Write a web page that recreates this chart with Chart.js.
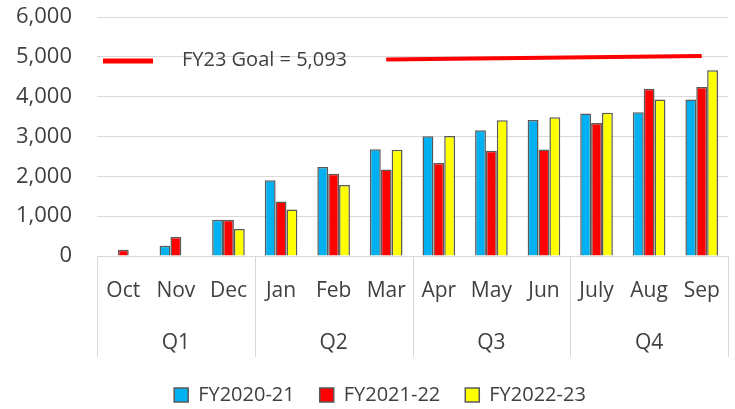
<!DOCTYPE html>
<html>
<head>
<meta charset="utf-8">
<script src="https://cdn.jsdelivr.net/npm/chart.js@4"></script>
<style>
  html, body { margin: 0; padding: 0; background: #fff; }
  #wrap { width: 735px; height: 409px; }
</style>
</head>
<body>
<div id="wrap"><canvas id="myChart"></canvas></div>
<script>
// data
const months = ['Oct', 'Nov', 'Dec', 'Jan', 'Feb', 'Mar', 'Apr', 'May', 'Jun', 'July', 'Aug', 'Sep'];
const quarters = ['Q1', 'Q2', 'Q3', 'Q4'];
const fy2021 = [null, 260, 910, 1900, 2235, 2680, 3005, 3155, 3415, 3575, 3610, 3930];
const fy2122 = [160, 480, 910, 1370, 2065, 2170, 2335, 2640, 2675, 3340, 4200, 4245];
const fy2223 = [20, 20, 680, 1165, 1780, 2665, 3010, 3410, 3485, 3595, 3930, 4665];
// goal line as drawn (starts at Mar, ends at Sep)
const goalLine = [null, null, null, null, null, 4930, null, null, null, null, null, 5020];
const goalText = 'FY23 Goal = 5,093';

const txt = '#404040';
const fontFam = '"Open Sans", sans-serif';

// quarter labels + separators under the month labels, and the goal caption
const extras = {
    id: 'extras',
    afterLayout(chart) {
        // legend sits a bit right of centre in the original
        chart.legend.left += 16;
        chart.legend.right += 16;
    },
    afterDraw(chart) {
        const c = chart.ctx;
        const x = chart.scales.x;
        const area = chart.chartArea;
        const step = (area.right - area.left) / months.length;
        c.save();
        c.strokeStyle = '#d9d9d9';
        c.lineWidth = 1;
        for (let q = 0; q <= quarters.length; q++) {
            const px = Math.round(area.left + q * 3 * step) + 0.5;
            c.beginPath();
            c.moveTo(px, area.bottom);
            c.lineTo(px, area.bottom + 101);
            c.stroke();
        }
        c.fillStyle = txt;
        c.font = '21px ' + fontFam;
        c.textAlign = 'center';
        c.textBaseline = 'middle';
        quarters.forEach(function (q, i) {
            const px = (x.getPixelForValue(i * 3) + x.getPixelForValue(i * 3 + 2)) / 2;
            c.fillText(q, px, area.bottom + 87);
        });
        // goal caption
        c.strokeStyle = '#ff0000';
        c.lineWidth = 5;
        c.beginPath();
        c.moveTo(area.left + 6, area.top + 44);
        c.lineTo(area.left + 56, area.top + 44);
        c.stroke();
        c.font = '20px ' + fontFam;
        c.textAlign = 'left';
        c.fillText(goalText, area.left + 85, area.top + 43);
        c.restore();
    }
};

const data = {
    labels: months,
    datasets: [
        { type: 'line', label: 'goal', data: goalLine, borderColor: '#ff0000', borderWidth: 4,
          pointRadius: 0, spanGaps: true, fill: false, order: 0 },
        { label: 'FY2020-21', data: fy2021, backgroundColor: '#00b0f0', borderColor: '#595959', borderWidth: 1.5, order: 1 },
        { label: 'FY2021-22', data: fy2122, backgroundColor: '#ff0000', borderColor: '#595959', borderWidth: 1.5, order: 1 },
        { label: 'FY2022-23', data: fy2223, backgroundColor: '#ffff00', borderColor: '#595959', borderWidth: 1.5, order: 1 }
    ]
};

const config = {
    type: 'bar',
    data,
    plugins: [extras],
    options: {
        responsive: true,
        maintainAspectRatio: false,
        animation: false,
        layout: { padding: { top: 0, right: 7, bottom: -6 } },
        datasets: { bar: { categoryPercentage: 0.62, barPercentage: 1 } },
        plugins: {
            tooltip: { enabled: false },
            legend: {
                position: 'bottom',
                labels: {
                    color: txt,
                    font: { family: fontFam, size: 20 },
                    boxWidth: 14,
                    boxHeight: 14,
                    padding: 25,
                    filter: function (item) { return item.text !== 'goal'; }
                }
            }
        },
        scales: {
            x: {
                grid: { display: false },
                border: { display: false },
                ticks: { color: txt, font: { family: fontFam, size: 21 }, padding: 14, maxRotation: 0, autoSkip: false },
                afterFit: function (s) {
                    s.height = 104;
                    s.paddingLeft = 0; s.paddingRight = 0;
                    s.paddingTop = -6; s.paddingBottom = -6;
                }
            },
            y: {
                min: 0,
                max: 6000,
                grid: { color: '#d9d9d9', drawTicks: false },
                border: { display: false },
                ticks: {
                    stepSize: 1000,
                    color: txt,
                    font: { family: fontFam, size: 22 },
                    padding: 25,
                    callback: function (v) { return v.toLocaleString('en-US'); }
                },
                afterFit: function (s) { s.width = 97; s.paddingTop = 17; s.paddingBottom = -6; }
            }
        }
    }
};

const Mychart = new Chart(document.getElementById('myChart'), config);
</script>
</body>
</html>
